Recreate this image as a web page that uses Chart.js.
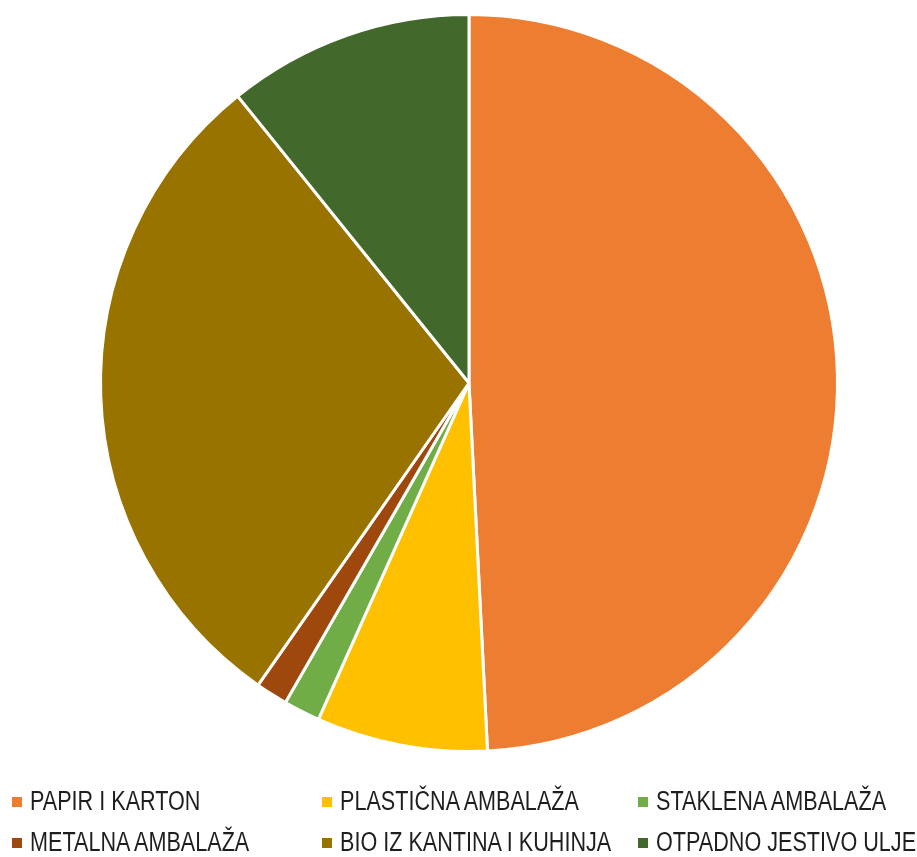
<!DOCTYPE html>
<html>
<head>
<meta charset="utf-8">
<script src="https://cdn.jsdelivr.net/npm/chart.js@4"></script>
<style>
  html, body { margin: 0; padding: 0; background: #fff; }
  #wrap { position: relative; width: 917px; height: 857px; }
  #chartBox { position: absolute; left: 0; top: 0; width: 917px; height: 770px; }
  #legend { position: absolute; left: 0; top: 0; width: 917px; height: 857px; pointer-events: none;
            font-family: "Liberation Sans", sans-serif; font-size: 27px; color: #1e1e1e; }
  .item { position: absolute; white-space: nowrap; line-height: 30px; }
  .box { position: absolute; left: 0; top: 11px; width: 10px; height: 10px; }
  .txt { position: absolute; left: 18px; top: 0; transform: scaleX(0.8); transform-origin: 0 0; }
</style>
</head>
<body>
<div id="wrap">
  <div id="chartBox"><canvas id="wasteChart"></canvas></div>
  <div id="legend"></div>
</div>
<script>
const categories = ['PAPIR I KARTON', 'PLASTIČNA AMBALAŽA', 'STAKLENA AMBALAŽA',
                    'METALNA AMBALAŽA', 'BIO IZ KANTINA I KUHINJA', 'OTPADNO JESTIVO ULJE'];
const shares = [49.2, 7.5, 1.6, 1.4, 29.5, 10.8];
const colors = ['#ED7D31', '#FFC000', '#70AD47', '#9E480E', '#997300', '#43682B'];

// legend positions (3 columns, 2 rows)
const legendCols = [12, 322, 638];
const legendRows = [786, 827];

const legend = document.getElementById('legend');
categories.forEach((name, i) => {
    const el = document.createElement('div');
    el.className = 'item';
    el.style.left = legendCols[i % 3] + 'px';
    el.style.top = legendRows[Math.floor(i / 3)] + 'px';
    el.innerHTML = '<span class="box" style="background:' + colors[i] + '"></span><span class="txt">' + name + '</span>';
    legend.appendChild(el);
});

const ctx = document.getElementById('wasteChart').getContext('2d');
new Chart(ctx, {
    type: 'pie',
    data: {
        labels: categories,
        datasets: [{
            data: shares,
            backgroundColor: colors,
            borderColor: '#ffffff',
            borderWidth: 3
        }]
    },
    options: {
        responsive: true,
        maintainAspectRatio: false,
        animation: false,
        layout: { padding: { top: 13, bottom: 17, left: 21, right: 0 } },
        plugins: {
            legend: { display: false },
            tooltip: { enabled: false }
        }
    }
});
</script>
</body>
</html>
